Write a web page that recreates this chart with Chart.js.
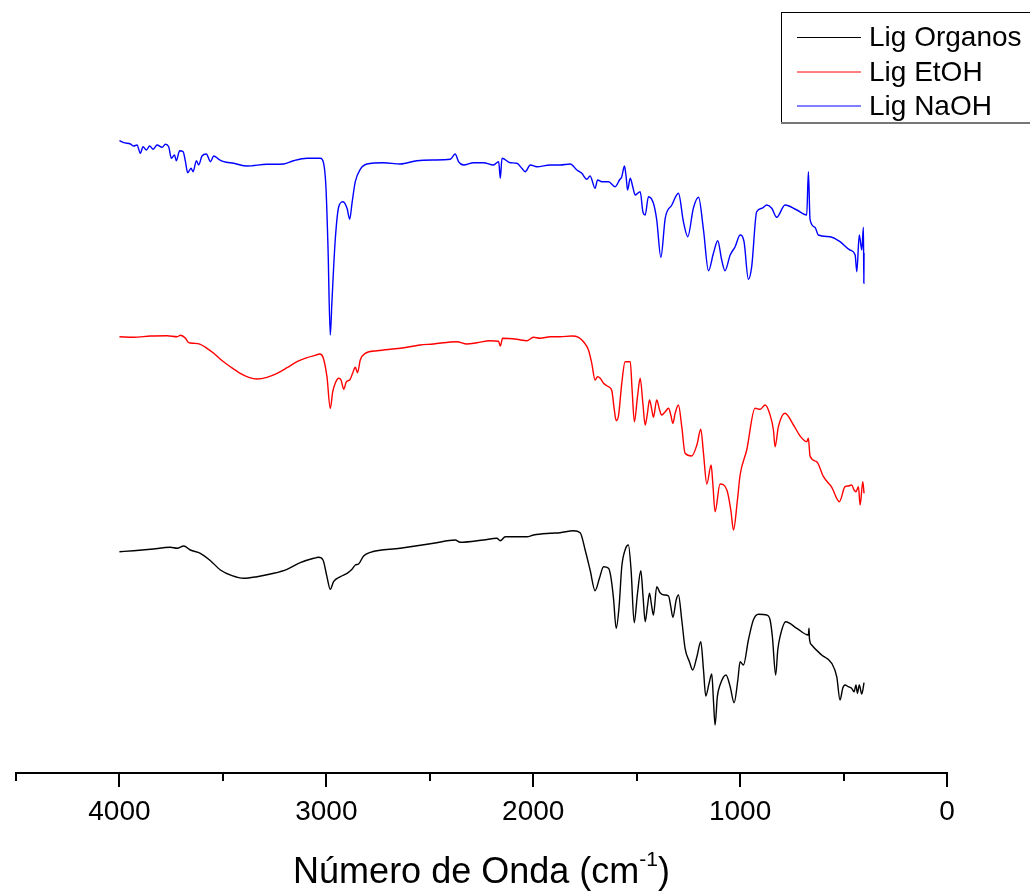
<!DOCTYPE html>
<html lang="pt-br">
<head>
    <meta charset="UTF-8">
    <title>Espectros FTIR - Lignina</title>
    <script src="https://cdn.jsdelivr.net/npm/chart.js"></script>
    <style>
        html, body { margin: 0; padding: 0; background: #ffffff; }
        #grafico { display: block; }
    </style>
</head>
<body>
    <canvas id="grafico" width="1030" height="892"></canvas>

<script>
    // Número de onda (cm-1) e intensidade (unidades arbitrárias, curvas deslocadas)
    const wnOrganos = [4000,3931,3850,3754,3721,3689,3657,3609,3560,3512,3456,3399,3335,3254,3190,3126,3061,3037,3016,2997,2981,2965,2932,2900,2876,2860,2844,2820,2787,2643,2482,2377,2353,2240,2176,2159,2135,2031,1998,1918,1870,1805,1773,1749,1725,1701,1680,1660,1636,1625,1612,1599,1585,1572,1556,1540,1527,1512,1496,1480,1469,1459,1448,1438,1427,1419,1403,1387,1367,1346,1335,1325,1309,1298,1282,1266,1245,1229,1209,1190,1177,1166,1150,1137,1129,1121,1110,1097,1068,1048,1029,1011,1000,984,960,936,911,871,855,844,828,818,807,780,726,670,667,665,654,606,557,533,517,504,493,477,461,449,440,433,424,412,401];
    const tOrganos = [221.3,222.3,223.7,225.7,224.7,227,223,219.7,212.3,203,197.3,194.7,196.3,199.7,203.7,210.3,214.7,215.7,213,196.3,183.7,191.3,196.3,199.7,203.7,208,209,217,220.7,224.7,229.7,233,230.7,233,234.7,232.3,236.3,236.3,238,239.7,240.3,242.3,240.3,223,203,182.3,194.7,206.3,204.7,196.3,174.7,144.7,166.3,206.3,223,228,203,150.3,179.7,202.3,176.3,151.3,166.3,179.7,166.3,158,186.3,180.3,178,177,166.3,155.7,173,178,153,124.7,111.3,103,116.3,131.3,103,77,89.7,99,73,48,76.3,88,98,86.3,70.3,93,111.3,108,133,153,158.7,158,153,136.3,98,123,136.3,151.3,144.7,138,144.7,134.7,128,118,109.7,96.3,73,84.7,88,86.3,84.7,81.3,88,79.7,88,79,90.3];

    const wnEtOH = [4000,3931,3850,3770,3721,3705,3681,3665,3641,3609,3577,3544,3512,3464,3416,3375,3335,3287,3238,3190,3142,3093,3053,3032,3016,2997,2981,2969,2957,2940,2929,2916,2903,2887,2873,2860,2849,2836,2812,2755,2643,2546,2482,2401,2369,2321,2272,2208,2168,2159,2148,2079,2031,1999,1966,1918,1870,1813,1781,1757,1733,1717,1701,1689,1676,1660,1636,1620,1609,1599,1588,1572,1556,1531,1522,1511,1496,1483,1470,1459,1448,1438,1428,1419,1403,1390,1379,1362,1346,1335,1325,1314,1298,1282,1266,1234,1209,1190,1177,1161,1140,1132,1121,1097,1064,1045,1032,1013,1000,968,928,903,879,855,839,831,815,783,742,710,678,670,662,630,597,557,520,493,477,461,449,440,428,420,407,401];
    const tEtOH = [436.3,435.7,437,437.3,436.3,437.7,434.7,430.3,429.7,428.7,424.7,419.7,413.7,406.3,399.7,395.7,394,395.7,399.7,405.3,411.3,415.3,417.7,419,415.7,396.3,364.7,381.3,389.7,394.7,393,383.7,391.3,393,399.7,405.7,400.3,413,419.7,422.3,424.7,428,429,431,431.3,429,430.3,432.3,431.7,427,434.7,433.7,432.3,435.7,434.7,436.3,436.3,437,435.7,431.3,423,409.7,393,396.3,394.7,389.7,386.3,382.3,364.7,352.3,357,389.7,411.3,411.3,383,351.3,376.3,394.7,369.7,348,359.7,373,364.7,355.7,373,363.7,358,361.3,364.7,358,349.7,359.7,368,346.3,319.7,317,328,343.7,319.7,289,308,289.7,261.3,289,283,263,243,273,298,323,364.7,363.7,368,358,343,326.3,346.3,359.7,348,337,331.3,334.7,317,311.3,296.3,285.7,271.3,286.3,287,288,283,281.3,286.3,268,291.3,279.7];

    const wnNaOH = [4000,3979,3947,3931,3915,3899,3886,3870,3854,3837,3818,3794,3778,3762,3749,3734,3725,3709,3692,3681,3670,3654,3644,3628,3617,3601,3580,3560,3544,3520,3496,3448,3383,3287,3206,3158,3093,3029,3013,3002,2992,2981,2973,2957,2940,2919,2900,2887,2876,2860,2836,2804,2723,2643,2562,2481,2401,2377,2361,2337,2288,2240,2192,2167,2159,2151,2111,2079,2055,2039,2014,1982,1918,1870,1821,1789,1765,1741,1725,1701,1689,1668,1636,1604,1583,1572,1559,1551,1544,1531,1519,1507,1483,1470,1459,1443,1419,1403,1383,1362,1330,1298,1274,1253,1226,1201,1177,1153,1129,1108,1089,1073,1048,1024,1000,981,960,944,920,895,871,847,823,783,726,678,670,662,638,622,565,517,469,444,436,424,412,404,402,401];
    const tNaOH = [632.3,630.3,629,627,628,619.7,626.3,623,627,623.7,628,625.7,628.7,626.3,614.7,618,612.3,622.3,621.3,611.3,600.3,604.7,601.3,612.3,608,617,619,611.3,617,613.7,611.3,609.7,607,608.7,609,612.3,614.7,614.7,609.7,586.3,526.3,438,471.3,533,566.3,571.3,564.7,553.7,569.7,591.3,603.7,609,610.3,609,612.3,613,613.7,619,611.3,608,610.3,610.3,608,611.3,594.7,614.7,610.3,609.7,604.7,601.3,608,606.3,608,608,609,603,599.7,593.7,597,584.7,593,591.3,591.3,586.3,593,596.3,607,596.3,583,594.7,586.3,578,581.3,561.3,558,576.3,569.7,553,515.7,554.7,568,579.7,551.3,536.3,564.7,575.7,543,502.3,519.7,532.3,513,502.3,518,526.3,538,531.3,493.7,506.3,561.3,564.7,568,564.7,555.7,568,563,558,601.3,553.7,545.7,538,536.3,531.3,523,518,501.3,538,523,545.7,489.7,520];

    const rotulos = ["Lig Organos", "Lig EtOH", "Lig NaOH"];
    const cores = ["#000000", "#ff0000", "#0000ff"];
    const ticksX = [4000, 3000, 2000, 1000, 0];

    const fonte = '"Liberation Sans", Arial, sans-serif';

    function pares(xs, ys) {
        let pts = [];
        for (let i = 0; i < xs.length; i++) {
            pts.push({ x: xs[i], y: ys[i] });
        }
        return pts;
    }

    // ticks menores, título com sobrescrito e legenda com moldura
    const extras = {
        id: 'extras',
        afterDraw(chart) {
            const ctx = chart.ctx;
            const eixo = chart.scales.x;
            const base = eixo.top;

            ctx.save();
            ctx.strokeStyle = '#000';
            ctx.lineWidth = 2;
            for (let v = 0; v <= 4500; v += 500) {
                const px = Math.round(eixo.getPixelForValue(v));
                const len = ticksX.includes(v) ? 14 : 8;
                ctx.beginPath();
                ctx.moveTo(px, base);
                ctx.lineTo(px, base + len);
                ctx.stroke();
            }

            // título do eixo
            const parte1 = "Número de Onda (cm";
            const sup = "-1";
            const parte2 = ")";
            ctx.fillStyle = '#000';
            ctx.textBaseline = 'alphabetic';
            ctx.textAlign = 'left';
            ctx.font = '36px ' + fonte;
            const w1 = ctx.measureText(parte1).width;
            const w3 = ctx.measureText(parte2).width;
            ctx.font = '21px ' + fonte;
            const w2 = ctx.measureText(sup).width;
            const centro = (eixo.left + eixo.right) / 2;
            let x0 = centro - (w1 + w2 + w3) / 2;
            ctx.font = '36px ' + fonte;
            ctx.fillText(parte1, x0, 883);
            ctx.font = '21px ' + fonte;
            ctx.fillText(sup, x0 + w1, 866);
            ctx.font = '36px ' + fonte;
            ctx.fillText(parte2, x0 + w1 + w2, 883);

            // legenda
            ctx.lineWidth = 1;
            ctx.strokeStyle = '#000';
            ctx.strokeRect(781.5, 12.5, 260, 110);
            ctx.strokeStyle = '#777';
            ctx.lineWidth = 2;
            ctx.beginPath();
            ctx.moveTo(781, 123);
            ctx.lineTo(1030, 123);
            ctx.stroke();

            ctx.font = '28px ' + fonte;
            ctx.textBaseline = 'middle';
            chart.data.datasets.forEach(function (ds, i) {
                const y = 37 + Math.round(i * 34.5);
                ctx.strokeStyle = ds.borderColor;
                ctx.lineWidth = 1;
                ctx.beginPath();
                ctx.moveTo(797, i === 0 ? y + 0.5 : y);
                ctx.lineTo(861, i === 0 ? y + 0.5 : y);
                ctx.stroke();
                ctx.fillStyle = '#000';
                ctx.fillText(ds.label, 869, y + 1);
            });
            ctx.restore();
        }
    };

    const dados = {
        datasets: [
            { label: rotulos[0], data: pares(wnOrganos, tOrganos), borderColor: cores[0] },
            { label: rotulos[1], data: pares(wnEtOH, tEtOH), borderColor: cores[1] },
            { label: rotulos[2], data: pares(wnNaOH, tNaOH), borderColor: cores[2] }
        ]
    };

    const config = {
        type: 'line',
        data: dados,
        options: {
            responsive: false,
            animation: false,
            layout: { padding: { left: 16, right: 83, top: 0, bottom: 0 } },
            elements: {
                line: { borderWidth: 1.4, cubicInterpolationMode: 'monotone', fill: false },
                point: { radius: 0 }
            },
            scales: {
                x: {
                    type: 'linear',
                    min: 0,
                    max: 4500,
                    reverse: true,
                    grid: { display: false, drawTicks: false },
                    border: { display: true, color: '#000', width: 2 },
                    ticks: {
                        stepSize: 500,
                        autoSkip: false,
                        maxRotation: 0,
                        padding: 22,
                        color: '#000',
                        font: { size: 28, family: fonte },
                        callback: function (v) {
                            return ticksX.includes(v) ? String(v) : '';
                        }
                    },
                    afterFit: function (scale) {
                        scale.height = 119;
                        scale.paddingLeft = 0;
                        scale.paddingRight = 0;
                    }
                },
                y: {
                    display: false,
                    min: 0,
                    max: 773
                }
            },
            plugins: {
                legend: { display: false },
                tooltip: { enabled: false }
            }
        },
        plugins: [extras]
    };

    new Chart(document.getElementById("grafico"), config);
</script>
</body>
</html>
